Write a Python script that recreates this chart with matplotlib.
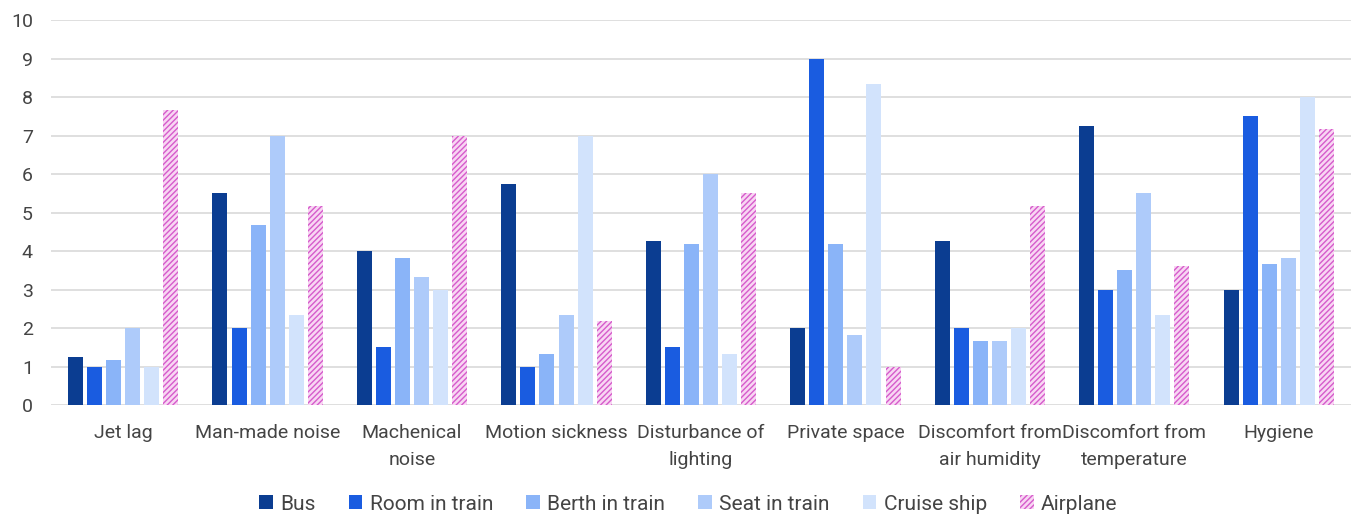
import numpy as np
import matplotlib.pyplot as plt

plt.rcParams['font.family'] = ['Roboto', 'DejaVu Sans']
plt.rcParams['hatch.linewidth'] = 1.0

categories = ['Jet lag', 'Man-made noise', 'Machenical\nnoise', 'Motion sickness',
              'Disturbance of\nlighting', 'Private space', 'Discomfort from\nair humidity',
              'Discomfort from\ntemperature', 'Hygiene']

bus    = [1.25, 5.5, 4.0, 5.75, 4.25, 2.0, 4.25, 7.25, 3.0]
room   = [1.0, 2.0, 1.5, 1.0, 1.5, 9.0, 2.0, 3.0, 7.5]
berth  = [1.17, 4.67, 3.83, 1.33, 4.17, 4.17, 1.67, 3.5, 3.67]
seat   = [2.0, 7.0, 3.33, 2.33, 6.0, 1.83, 1.67, 5.5, 3.83]
cruise = [1.0, 2.33, 3.0, 7.0, 1.33, 8.33, 2.0, 2.33, 8.0]
plane  = [7.67, 5.17, 7.0, 2.17, 5.5, 1.0, 5.17, 3.6, 7.17]

series = [('Bus', bus, '#0b3d91'),
          ('Room in train', room, '#1a5ce0'),
          ('Berth in train', berth, '#8ab4f8'),
          ('Seat in train', seat, '#aecbfa'),
          ('Cruise ship', cruise, '#d2e3fc')]

fig = plt.figure(figsize=(13.55, 5.15), dpi=100)
ax = fig.add_axes([0.0376, 0.2136, 0.9594, 0.7474])

x = np.arange(len(categories))
slot = 0.132
width = 0.104
offsets = (np.arange(6) - 2.5) * slot

for i, (name, vals, col) in enumerate(series):
    ax.bar(x + offsets[i], vals, width, color=col, label=name, zorder=2)
ax.bar(x + offsets[5], plane, width, facecolor='#f8d6f3', edgecolor='#d65bcb',
       linewidth=0, hatch='//////', label='Airplane', zorder=2)

ax.set_xlim(-0.5, len(categories) - 0.5)
ax.set_ylim(0, 10)
ax.set_yticks(range(0, 11))
ax.yaxis.grid(True, color='#dcdcdc', linewidth=1.3, zorder=0)
ax.set_axisbelow(True)
for s in ax.spines.values():
    s.set_visible(False)
ax.tick_params(axis='both', length=0, labelsize=14, labelcolor='#444444')
ax.tick_params(axis='y', pad=13)
ax.tick_params(axis='x', pad=14)
ax.set_xticks(x)
ax.set_xticklabels(categories, linespacing=1.6)

fig.legend(*ax.get_legend_handles_labels(), loc='center', bbox_to_anchor=(0.508, 11 / 515),
           ncol=6, frameon=False, fontsize=15, handlelength=0.65, handleheight=0.65,
           handletextpad=0.35, columnspacing=1.6, labelcolor='#444444')

fig.savefig('out.png', dpi=100)
